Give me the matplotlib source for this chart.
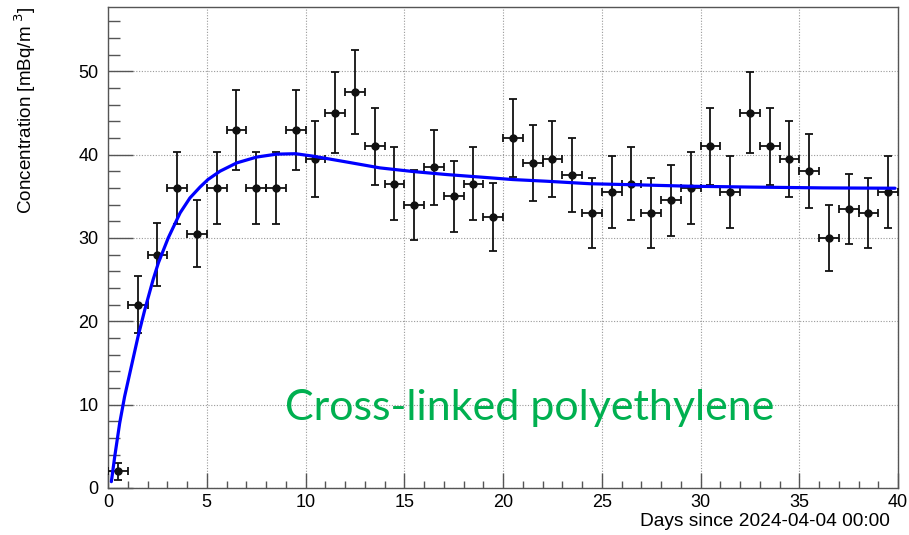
import matplotlib
matplotlib.use("Agg")
import matplotlib.pyplot as plt
from matplotlib.ticker import MultipleLocator

# Measured concentration per one-day bin
day_centers = [0.5, 1.5, 2.5, 3.5, 4.5, 5.5, 6.5, 7.5, 8.5, 9.5,
               10.5, 11.5, 12.5, 13.5, 14.5, 15.5, 16.5, 17.5, 18.5, 19.5,
               20.5, 21.5, 22.5, 23.5, 24.5, 25.5, 26.5, 27.5, 28.5, 29.5,
               30.5, 31.5, 32.5, 33.5, 34.5, 35.5, 36.5, 37.5, 38.5, 39.5]
day_halfwidth = [0.5] * 40
concentration = [2.0, 22.0, 28.0, 36.0, 30.5, 36.0, 43.0, 36.0, 36.0, 43.0,
                 39.5, 45.0, 47.5, 41.0, 36.5, 34.0, 38.5, 35.0, 36.5, 32.5,
                 42.0, 39.0, 39.5, 37.5, 33.0, 35.5, 36.5, 33.0, 34.5, 36.0,
                 41.0, 35.5, 45.0, 41.0, 39.5, 38.0, 30.0, 33.5, 33.0, 35.5]
conc_error = [1.0, 3.4, 3.8, 4.35, 4.0, 4.35, 4.8, 4.35, 4.35, 4.8,
              4.55, 4.85, 5.0, 4.6, 4.4, 4.2, 4.5, 4.25, 4.4, 4.1,
              4.7, 4.55, 4.55, 4.45, 4.15, 4.3, 4.4, 4.15, 4.25, 4.35,
              4.6, 4.3, 4.85, 4.6, 4.55, 4.45, 3.95, 4.2, 4.15, 4.3]

# Fitted ingrowth curve
fit_days = [0.17, 0.34, 0.59, 0.84, 1.18, 1.52, 1.86, 2.28, 2.55, 3.05, 3.65,
            4.15, 4.66, 5.06, 5.67, 6.52, 7.53, 8.54, 9.5, 10.4, 12.1, 13.77,
            15.46, 17.15, 18.84, 20.5, 22.2, 24.4, 26.9, 29.5, 32.5, 36.2, 39.85]
fit_conc = [0.76, 3.76, 7.76, 10.96, 14.56, 18.16, 21.36, 24.96, 27.0, 30.0, 33.0,
            34.8, 36.1, 37.0, 38.0, 39.0, 39.7, 40.05, 40.1, 39.8, 39.1, 38.4,
            37.96, 37.6, 37.3, 37.0, 36.8, 36.5, 36.36, 36.2, 36.1, 36.0, 35.96]

plt.rcParams["font.family"] = ["Liberation Sans", "DejaVu Sans"]

fig = plt.figure(figsize=(9.09, 5.35), dpi=100)
ax = fig.add_axes([108 / 909, 1 - 488 / 535, 790 / 909, 481 / 535])

ax.errorbar(day_centers, concentration, yerr=conc_error, xerr=day_halfwidth,
            fmt="o", color="#111111", ms=5, elinewidth=1.3, capsize=3,
            capthick=1.3, zorder=3)
ax.plot(fit_days, fit_conc, color="#0000ff", lw=2.3, zorder=4,
        solid_joinstyle="round", solid_capstyle="round")

ax.set_xlim(0, 40)
ax.set_ylim(0, 57.7)
ax.xaxis.set_major_locator(MultipleLocator(5))
ax.xaxis.set_minor_locator(MultipleLocator(1))
ax.yaxis.set_major_locator(MultipleLocator(10))
ax.yaxis.set_minor_locator(MultipleLocator(2))

ax.grid(True, which="major", color="#9a9a9a", ls=(0, (1, 1.5)), lw=0.8)
ax.set_axisbelow(True)
for side in ax.spines.values():
    side.set_color("#555555")
    side.set_linewidth(1.0)

ax.tick_params(axis="both", which="both", direction="in", colors="#555555",
               labelcolor="black", labelsize=13, top=False, right=False)
ax.tick_params(axis="y", which="major", length=18, width=1.0, pad=7)
ax.tick_params(axis="y", which="minor", length=8.5, width=1.0)
ax.tick_params(axis="x", which="major", length=11, width=1.0, pad=4)
ax.tick_params(axis="x", which="minor", length=5, width=1.0)

ax.set_xlabel("Days since 2024-04-04 00:00", fontsize=13.8, ha="right")
ax.xaxis.set_label_coords(1.0 - 8 / 790, -0.053)
ax.set_ylabel("Concentration [mBq/m$^{\\ 3}$]", fontsize=13.6, ha="right")
ax.yaxis.set_label_coords(-70 / 790, 1.0)

ax.text(8.96, 8.2, "Cross-linked polyethylene", family="Lato", fontsize=31,
        color="#00b050", ha="left", va="baseline", zorder=5)

fig.savefig("out.png", dpi=100)
